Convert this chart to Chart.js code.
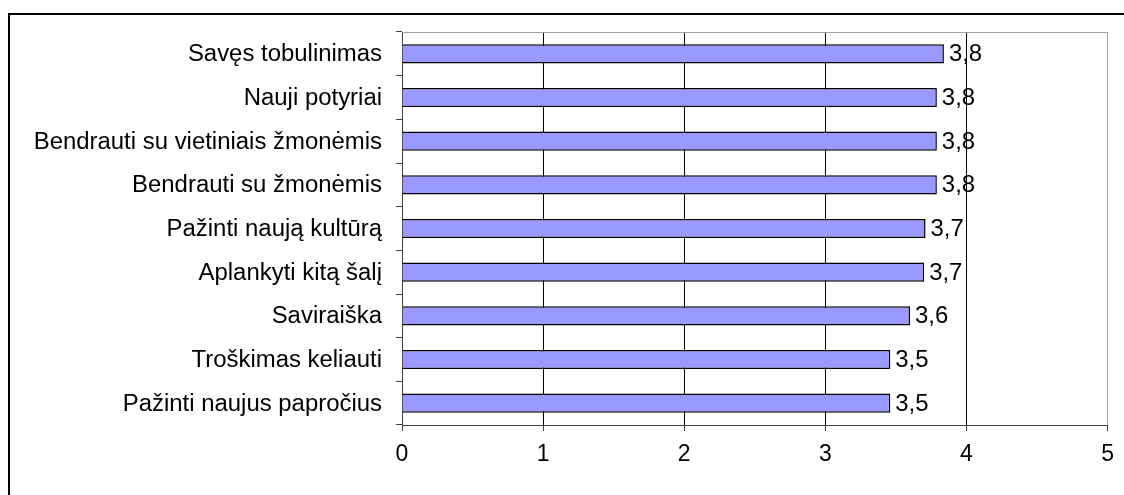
<!DOCTYPE html>
<html>
<head>
<meta charset="utf-8">
<script src="https://cdn.jsdelivr.net/npm/chart.js@4/dist/chart.umd.min.js"></script>
<style>
  html, body { margin: 0; padding: 0; background: #fff; }
  #wrap { width: 1124px; height: 495px; }
</style>
</head>
<body>
<div id="wrap"><canvas id="chart" width="1124" height="495"></canvas></div>
<script>
// categories, top to bottom
const categories = [
  'Savęs tobulinimas',
  'Nauji potyriai',
  'Bendrauti su vietiniais žmonėmis',
  'Bendrauti su žmonėmis',
  'Pažinti naują kultūrą',
  'Aplankyti kitą šalį',
  'Saviraiška',
  'Troškimas keliauti',
  'Pažinti naujus papročius'
];
const values = [3.84, 3.79, 3.79, 3.79, 3.71, 3.70, 3.60, 3.46, 3.46];
const xTicks = [0, 1, 2, 3, 4, 5];

const FONT = 'Arial, "Liberation Sans", sans-serif';
const STRETCH = 1.04; // the original text is a touch wider than plain Arial

// outer frame of the picture (only top and left edges are in view)
const framePlugin = {
  id: 'frame',
  beforeDraw(chart) {
    const ctx = chart.ctx;
    ctx.save();
    ctx.fillStyle = '#fff';
    ctx.fillRect(0, 0, chart.width, chart.height);
    ctx.strokeStyle = '#000';
    ctx.lineWidth = 2;
    ctx.strokeRect(9, 14, 3000, 3000);
    ctx.restore();
  },
  afterDraw(chart) {
    // grey top edge of the plot area
    const a = chart.chartArea;
    const ctx = chart.ctx;
    ctx.save();
    ctx.strokeStyle = '#a0a0a0';
    ctx.lineWidth = 1;
    ctx.beginPath();
    ctx.moveTo(a.left, a.top + 0.5);
    ctx.lineTo(a.right + 0.5, a.top + 0.5);
    ctx.stroke();
    ctx.restore();
  }
};

// category names and value labels, drawn slightly widened
const labelPlugin = {
  id: 'labels',
  afterDatasetsDraw(chart) {
    const ctx = chart.ctx;
    const yScale = chart.scales.y;
    ctx.save();
    ctx.fillStyle = '#000';
    ctx.font = '23px ' + FONT;
    ctx.textBaseline = 'middle';

    ctx.textAlign = 'right';
    categories.forEach((c, i) => {
      const y = yScale.getPixelForValue(i);
      ctx.save();
      ctx.translate(yScale.right - 20, y);
      ctx.scale(STRETCH, 1);
      ctx.fillText(c, 0, 1);
      ctx.restore();
    });

    ctx.textAlign = 'left';
    chart.getDatasetMeta(0).data.forEach((bar, i) => {
      const txt = values[i].toFixed(1).replace('.', ',');
      ctx.save();
      ctx.translate(bar.x + 5, bar.y);
      ctx.scale(STRETCH, 1);
      ctx.fillText(txt, 0, 1);
      ctx.restore();
    });
    ctx.restore();
  }
};

new Chart(document.getElementById('chart'), {
  type: 'bar',
  data: {
    labels: categories,
    datasets: [{
      data: values,
      backgroundColor: '#9999ff',
      borderColor: '#000',
      borderWidth: 1.5,
      barPercentage: 0.44,
      categoryPercentage: 1
    }]
  },
  options: {
    indexAxis: 'y',
    responsive: false,
    animation: false,
    layout: { padding: { top: 32, right: 14, left: 0, bottom: 0 } },
    plugins: {
      legend: { display: false },
      tooltip: { enabled: false }
    },
    scales: {
      x: {
        min: 0,
        max: 5,
        afterBuildTicks(scale) {
          scale.ticks = xTicks.map(v => ({ value: v }));
        },
        afterFit(scale) { scale.height = 70; },
        border: { color: '#404040', width: 1 },
        grid: {
          color(c) {
            const v = c.tick ? c.tick.value : null;
            if (v === 0) return 'rgba(0,0,0,0)';
            if (v === 5) return '#a0a0a0';
            return '#000';
          },
          tickColor: '#404040',
          tickLength: 6,
          lineWidth: 1
        },
        ticks: {
          color: '#000',
          font: { family: FONT, size: 23 },
          padding: 10,
          maxRotation: 0
        }
      },
      y: {
        afterFit(scale) { scale.width = 402; },
        border: { color: '#404040', width: 1 },
        grid: {
          offset: true,
          drawOnChartArea: false,
          tickColor: '#404040',
          tickLength: 6
        },
        ticks: { display: false }
      }
    }
  },
  plugins: [framePlugin, labelPlugin]
});
</script>
</body>
</html>
